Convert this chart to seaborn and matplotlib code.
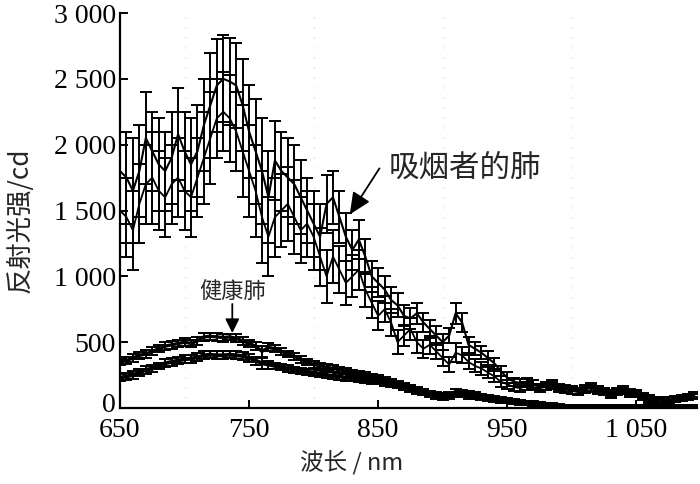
import matplotlib
matplotlib.use("Agg")
import matplotlib.pyplot as plt
import matplotlib.transforms as mtransforms
import seaborn as sns
import pandas as pd
from matplotlib.ticker import FuncFormatter, FixedLocator

# ---------------- data ----------------
wavelength = list(range(650, 1100, 5))  # nm, 90 samples

smoker_a = [1800, 1750, 1650, 1800, 2050, 1950, 1850, 1800, 1900, 2080,
            1950, 1850, 1950, 2150, 2300, 2450, 2500, 2480, 2450, 2300,
            2100, 1950, 1800, 1600, 1880, 1800, 1750, 1700, 1600, 1500,
            1400, 1300, 1550, 1600, 1450, 1300, 1200, 1280, 1150, 1000,
            950, 900, 820, 780, 700, 680, 720, 650, 600, 550,
            500, 550, 720, 650, 480, 450, 420, 380, 340, 280,
            230, 200, 190, 200, 180, 160, 170, 180, 160, 150,
            140, 130, 150, 160, 140, 130, 110, 130, 140, 120,
            110, 90, 70, 60, 60, 65, 70, 80, 90, 100]
smoker_a_err = [300, 350, 400, 350, 350, 300, 350, 300, 350, 350,
                300, 350, 350, 350, 400, 350, 330, 330, 320, 350,
                350, 400, 400, 350, 300, 300, 300, 300, 280, 250,
                250, 250, 220, 200, 200, 180, 150, 150, 130, 120,
                110, 100, 100, 90, 80, 80, 80, 70, 70, 70,
                60, 60, 80, 70, 60, 50, 50, 50, 40, 40,
                40, 30, 30, 30, 30, 25, 30, 30, 25, 25,
                30, 25, 25, 30, 25, 25, 25, 25, 25, 25,
                25, 25, 25, 20, 20, 20, 20, 20, 20, 20]

smoker_b = [1500, 1450, 1350, 1550, 1700, 1750, 1650, 1600, 1700, 1750,
            1650, 1600, 1750, 1900, 2050, 2200, 2250, 2200, 2100, 1950,
            1800, 1650, 1450, 1300, 1450, 1500, 1550, 1450, 1350, 1400,
            1300, 1150, 1000, 1150, 1050, 950, 1000, 1050, 900, 800,
            700, 750, 650, 500, 550, 600, 500, 450, 480, 430,
            380, 330, 420, 400, 350, 320, 300, 270, 240, 200,
            180, 160, 150, 170, 160, 150, 160, 170, 150, 140,
            130, 120, 140, 150, 130, 120, 100, 120, 130, 110,
            100, 80, 60, 50, 55, 60, 65, 70, 80, 90]
smoker_b_err = [250, 300, 300, 300, 300, 350, 300, 300, 300, 300,
                300, 300, 300, 350, 350, 300, 300, 330, 300, 350,
                350, 350, 350, 300, 300, 280, 280, 280, 250, 250,
                250, 220, 200, 200, 180, 170, 160, 150, 130, 120,
                110, 100, 100, 90, 80, 80, 80, 70, 70, 60,
                60, 60, 70, 60, 50, 50, 50, 45, 40, 40,
                35, 30, 30, 30, 25, 25, 25, 25, 25, 25,
                25, 25, 25, 25, 25, 25, 25, 25, 25, 25,
                20, 20, 20, 20, 20, 20, 20, 20, 20, 20]

healthy_a = [350, 360, 380, 400, 410, 430, 450, 470, 480, 490,
             500, 490, 510, 540, 545, 540, 535, 540, 530, 510,
             490, 470, 430, 460, 450, 430, 410, 390, 370, 350,
             330, 320, 310, 300, 290, 280, 270, 260, 250, 240,
             230, 215, 200, 185, 170, 155, 140, 125, 110, 100,
             95, 100, 125, 120, 110, 100, 90, 80, 75, 65,
             60, 55, 45, 40, 35, 30, 25, 20, 20, 15,
             15, 15, 12, 12, 10, 10, 10, 10, 10, 10,
             10, 10, 10, 10, 10, 10, 10, 10, 10, 10]
healthy_b = [230, 240, 250, 270, 290, 300, 320, 340, 350, 360,
             370, 375, 385, 400, 405, 400, 400, 405, 400, 395,
             380, 360, 340, 330, 320, 310, 300, 290, 280, 275,
             270, 260, 250, 245, 240, 230, 225, 220, 210, 205,
             200, 190, 180, 170, 160, 145, 130, 115, 100, 90,
             80, 85, 105, 100, 90, 85, 75, 70, 60, 55,
             50, 45, 40, 35, 30, 25, 20, 15, 12, 10,
             10, 8, 8, 8, 8, 8, 8, 8, 8, 8,
             8, 8, 8, 8, 8, 8, 8, 8, 8, 8]
healthy_err = [25, 25, 30, 25, 30, 30, 25, 30, 30, 25,
               30, 30, 30, 30, 25, 30, 30, 25, 30, 30,
               30, 30, 40, 30, 25, 25, 25, 25, 25, 25,
               25, 25, 25, 25, 25, 25, 20, 20, 20, 20,
               20, 20, 20, 20, 20, 20, 20, 20, 20, 20,
               20, 20, 20, 20, 20, 20, 15, 15, 15, 15,
               15, 15, 15, 15, 15, 15, 15, 15, 10, 10,
               10, 10, 10, 10, 10, 10, 10, 10, 10, 10,
               10, 10, 10, 10, 10, 10, 10, 10, 10, 10]

x_ticks = [650, 750, 850, 950, 1050]
y_ticks = [0, 500, 1000, 1500, 2000, 2500, 3000]

# ---------------- style ----------------
sns.set_theme(style="white")
plt.rcParams['font.family'] = ['Liberation Serif', 'Noto Sans CJK SC', 'DejaVu Sans']
CJK = ['Noto Sans CJK SC', 'DejaVu Sans']

fig = plt.figure(figsize=(7, 4.84), dpi=100)
ax = fig.add_axes([120 / 700, 1 - 408 / 484, 577 / 700, 395 / 484])

series = [
    ("smoker_a", smoker_a, smoker_a_err, 1.5),
    ("smoker_b", smoker_b, smoker_b_err, 1.3),
    ("healthy_a", healthy_a, healthy_err, 2.4),
    ("healthy_b", healthy_b, healthy_err, 2.8),
]

for name, vals, errs, lw in series:
    ax.errorbar(wavelength, vals, yerr=errs, fmt='none', ecolor='black',
                elinewidth=1.4, capsize=4, capthick=1.4, zorder=2)
    df = pd.DataFrame({"wavelength": wavelength, "value": vals})
    sns.lineplot(data=df, x="wavelength", y="value", color="black",
                 linewidth=lw, ax=ax, zorder=3)

# faint dotted grid
for gx in [700, 800, 900, 1000]:
    ax.axvline(gx, color='#d0d0d0', linestyle=(0, (1, 8)), linewidth=0.8, zorder=0)

ax.set_xlim(650, 1097)
ax.set_ylim(0, 3000)
ax.xaxis.set_major_locator(FixedLocator(x_ticks))
ax.yaxis.set_major_locator(FixedLocator(y_ticks))


def fmt(v, pos):
    v = int(round(v))
    return f"{v:,}".replace(",", " ")


ax.xaxis.set_major_formatter(FuncFormatter(fmt))
ax.yaxis.set_major_formatter(FuncFormatter(fmt))

for side in ['top', 'right']:
    ax.spines[side].set_visible(False)
for side in ['left', 'bottom']:
    ax.spines[side].set_color('black')
    ax.spines[side].set_linewidth(1.6)

ax.tick_params(axis='both', which='major', direction='in', length=6, width=1.4,
               colors='black', labelsize=20, left=True, bottom=True)
ax.tick_params(axis='x', pad=7.5)
ax.tick_params(axis='y', pad=3)
for lab in ax.get_xticklabels() + ax.get_yticklabels():
    lab.set_family('Liberation Serif')

# nudge the "0" label on the y axis slightly upward (as in the reference)
ylabels = ax.get_yticklabels()
if ylabels:
    ylabels[0].set_transform(ylabels[0].get_transform() +
                             mtransforms.ScaledTranslation(0, 6 / 100, fig.dpi_scale_trans))

ax.set_xlabel("")
ax.set_ylabel("")
fig.text(352 / 700, 1 - 463 / 484, "波长 / nm", family=CJK, fontsize=17,
         ha='center', va='center')
fig.text(20 / 700, 1 - 220 / 484, "反射光强/cd", family=CJK, fontsize=19,
         rotation=90, ha='center', va='center')

# annotations
ax.annotate("", xy=(828, 1470), xytext=(851, 1820),
            arrowprops=dict(arrowstyle='-|>,head_length=1.1,head_width=0.5',
                            color='black', lw=1.3, shrinkA=0, shrinkB=0))
ax.text(858, 1820, "吸烟者的肺", family=CJK, fontsize=22, ha='left', va='center')

ax.annotate("", xy=(737, 570), xytext=(737, 790),
            arrowprops=dict(arrowstyle='-|>,head_length=0.7,head_width=0.35',
                            color='black', lw=1.3, shrinkA=0, shrinkB=0))
ax.text(737, 885, "健康肺", family=CJK, fontsize=16, ha='center', va='center')

fig.savefig("out.png", dpi=100)
